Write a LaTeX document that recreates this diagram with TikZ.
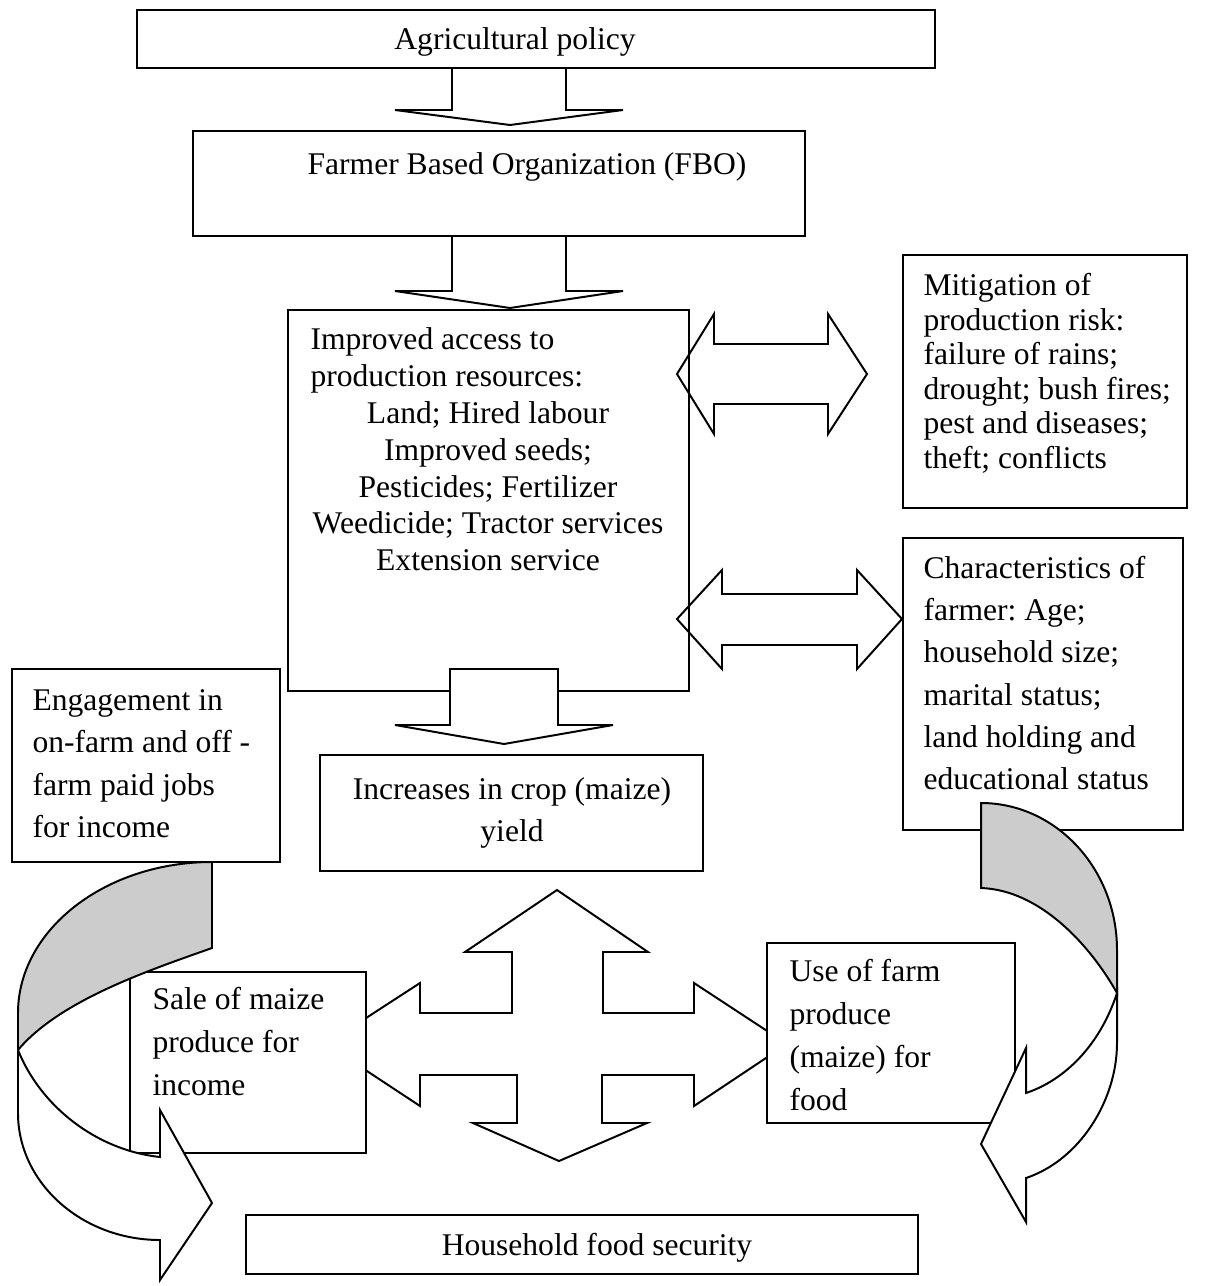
\documentclass[tikz,border=0pt]{standalone}
\usepackage{fontspec}
\setmainfont{Liberation Serif}
\frenchspacing
\newcommand{\pxs}{0.38pt}
\tikzset{
    box/.style={draw, fill=white, line width=0.75pt, inner sep=0pt},
    txt/.style={inner sep=0pt, align=left, font=\fontsize{12}{14}\selectfont},
    blockarrow/.style={draw, line width=0.75pt, line join=miter},
    backface/.style={draw, fill=black!20, line width=0.75pt}
}
\begin{document}
\begin{tikzpicture}[x=\pxs, y=-\pxs]
    \useasboundingbox (0,0) rectangle (1208,1286);
        \node[box, minimum width=798*\pxs, minimum height=58*\pxs] (policy) at (536,39) {};
        \node[txt, anchor=base] (policytext) at (515,50) {Agricultural policy};
        \node[box, minimum width=612*\pxs, minimum height=105*\pxs] (fbo) at (499,183.5) {};
        \node[txt, anchor=base] (fbotext) at (527,174) {Farmer Based Organization (FBO)};
        \draw[blockarrow] (452,68) -- (452,110) -- (395,110) -- (510,125) -- (623,110) -- (566,110) -- (566,68);
        \draw[blockarrow] (452,236) -- (452,291) -- (395,291) -- (510,308) -- (623,291) -- (566,291) -- (566,236);
        %
        \node[box, minimum width=401*\pxs, minimum height=381*\pxs] (improved) at (488.5,500.5) {};
        \node[txt, anchor=north west] (improvedtop) at (310,327) {Improved access to\\production resources:};
        \node[txt, anchor=north, align=center] (improvedlist) at (488,401)
            {Land; Hired labour\\Improved seeds;\\Pesticides; Fertilizer\\Weedicide; Tractor services\\Extension service};
        \draw[blockarrow, fill=white] (450,669) -- (558,669) -- (558,725) -- (613,725) -- (504,744) -- (395,725) -- (450,725) -- cycle;
        \node[box, minimum width=284*\pxs, minimum height=253*\pxs] (mitigation) at (1045,381.5) {};
        \node[txt, anchor=north west, font=\fontsize{12}{13.1}\selectfont] (mitigationtext) at (923,273)
            {Mitigation of\\production risk:\\failure of rains;\\drought; bush fires;\\pest and diseases;\\theft; conflicts};
        \node[box, minimum width=280*\pxs, minimum height=292*\pxs] (farmer) at (1043,684) {};
        \node[txt, anchor=north west, font=\fontsize{12}{16}\selectfont] (farmertext) at (923,556)
            {Characteristics of\\farmer: Age;\\household size;\\marital status;\\land holding and\\educational status};
        \draw[blockarrow] (677,374) -- (714,314) -- (714,344) -- (828,344) -- (828,314) -- (867,374)
            -- (828,434) -- (828,404) -- (714,404) -- (714,434) -- cycle;
        \draw[blockarrow] (677,619) -- (722,570) -- (722,594) -- (857,594) -- (857,570) -- (902,619)
            -- (857,669) -- (857,645) -- (722,645) -- (722,669) -- cycle;
        %
        \node[box, minimum width=383*\pxs, minimum height=116*\pxs] (yield) at (511.5,813) {};
        \node[txt, anchor=north, align=center, font=\fontsize{12}{16}\selectfont] (yieldtext) at (512,777)
            {Increases in crop (maize)\\yield};
        \draw[blockarrow, fill=white] (557,890) -- (648,952) -- (603,952) -- (603,1013) -- (694,1013) -- (694,983)
            -- (787,1044) -- (694,1106) -- (694,1075) -- (602,1075) -- (602,1123) -- (647,1123) -- (559,1161)
            -- (473,1123) -- (517,1123) -- (517,1075) -- (420,1075) -- (420,1106) -- (326,1044) -- (420,983)
            -- (420,1013) -- (512,1013) -- (512,952) -- (465,952) -- cycle;
        %
        \node[box, minimum width=268*\pxs, minimum height=193*\pxs] (jobs) at (146,765.5) {};
        \node[txt, anchor=north west, font=\fontsize{12}{16.1}\selectfont] (jobstext) at (32,689)
            {Engagement in\\on-farm and off -\\farm paid jobs\\for income};
        \node[box, minimum width=236*\pxs, minimum height=181*\pxs] (sale) at (248,1062.5) {};
        \node[txt, anchor=north west, font=\fontsize{12}{16.3}\selectfont] (saletext) at (152,987)
            {Sale of maize\\produce for\\income};
        \node[box, minimum width=248*\pxs, minimum height=180*\pxs] (food) at (891,1033) {};
        \node[txt, anchor=north west, font=\fontsize{12}{16.3}\selectfont] (foodtext) at (789,959)
            {Use of farm\\produce\\(maize) for\\food};
        \node[box, minimum width=672*\pxs, minimum height=59*\pxs] (security) at (582,1244.5) {};
        \node[txt, anchor=base] (securitytext) at (597,1255) {Household food security};
        %
        \draw[blockarrow, fill=white] (18,1050) -- (18,1113) .. controls (18,1183) and (82,1240) .. (160,1240)
            -- (160,1280) -- (212,1203) -- (160,1110) -- (160,1157) .. controls (95,1150) and (40,1105) .. (18,1050) -- cycle;
        \draw[backface] (212,862) .. controls (105,862) and (18,930) .. (18,1013) -- (18,1050)
            .. controls (60,1000) and (150,970) .. (212,948) -- cycle;
        \draw[blockarrow, fill=white] (1117,993) -- (1117,1043) .. controls (1117,1100) and (1080,1160) .. (1026,1178)
            -- (1026,1222) -- (981,1144) -- (1026,1048) -- (1026,1093) .. controls (1065,1080) and (1100,1045) .. (1117,993) -- cycle;
        \draw[backface] (981,803) .. controls (1056,803) and (1117,869) .. (1117,950) -- (1117,993)
            .. controls (1090,945) and (1040,890) .. (981,888) -- cycle;
    \end{tikzpicture}
\end{document}
